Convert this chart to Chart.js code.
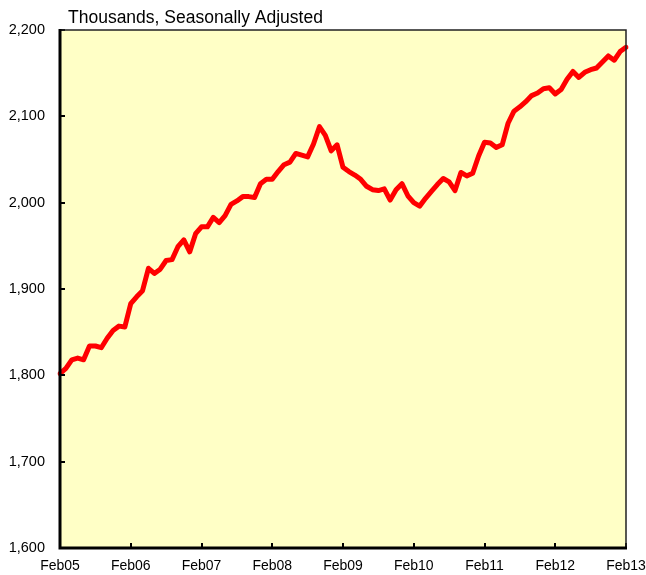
<!DOCTYPE html>
<html>
<head>
<meta charset="utf-8">
<script src="https://cdn.jsdelivr.net/npm/chart.js@4/dist/chart.umd.min.js"></script>
<style>
html,body{margin:0;padding:0;background:#fff;}
#wrap{width:646px;height:575px;position:relative;}
</style>
</head>
<body>
<div id="wrap"><canvas id="c" width="646" height="575"></canvas></div>
<script>
const years = ["05","06","07","08","09","10","11","12","13"];
const monthNames = ["Feb","Mar","Apr","May","Jun","Jul","Aug","Sep","Oct","Nov","Dec","Jan"];
const employment = [
1802,1808,1818,1820,1818,1834,1834,1832,1843,1852,1857,1856,
1883,1891,1898,1924,1918,1923,1933,1934,1949,1957,1943,1964,
1972,1972,1983,1977,1985,1998,2002,2007,2007,2006,2022,2027,
2027,2036,2044,2047,2057,2055,2053,2068,2088,2078,2060,2067,
2041,2036,2032,2027,2019,2015,2014,2016,2003,2015,2022,2008,
2000,1996,2005,2013,2021,2028,2024,2014,2035,2031,2034,2054,
2070,2069,2064,2067,2092,2106,2111,2117,2124,2127,2132,2133,
2126,2131,2143,2152,2145,2151,2154,2156,2163,2170,2165,2175,
2180
];
const yTicks = [1600,1700,1800,1900,2000,2100,2200];
const titleText = "Thousands, Seasonally Adjusted";

const labels = employment.map((v,i)=>{
  const yr = Math.floor(i/12);
  const m = i%12;
  const y2 = m===11 ? years[yr+1] : years[yr];
  return monthNames[m] + y2;
});

const frame = {
  id:'frame',
  beforeDatasetsDraw(chart){
    const {ctx, chartArea:a} = chart;
    ctx.save();
    ctx.fillStyle = '#FFFFC6';
    ctx.fillRect(a.left, a.top, a.right-a.left, a.bottom-a.top);
    ctx.restore();
  },
  afterDatasetsDraw(chart){
    const {ctx, chartArea:a, scales} = chart;
    ctx.save();
    ctx.strokeStyle = '#000';
    ctx.lineWidth = 2;
    yTicks.forEach(v=>{
      const y = Math.round(scales.y.getPixelForValue(v));
      ctx.beginPath(); ctx.moveTo(a.left, y); ctx.lineTo(a.left+5, y); ctx.stroke();
    });
    labels.forEach((l,i)=>{
      if(i%12===0){
        const x = Math.round(scales.x.getPixelForValue(i));
        ctx.beginPath(); ctx.moveTo(x, a.bottom); ctx.lineTo(x, a.bottom-5); ctx.stroke();
      }
    });
    ctx.strokeStyle = '#222';
    ctx.lineWidth = 1.5;
    ctx.beginPath();
    ctx.moveTo(a.left, a.top); ctx.lineTo(a.right, a.top); ctx.lineTo(a.right, a.bottom);
    ctx.stroke();
    ctx.strokeStyle = '#000';
    ctx.lineWidth = 3;
    ctx.beginPath();
    ctx.moveTo(a.left, a.top-1); ctx.lineTo(a.left, a.bottom); ctx.lineTo(a.right+1, a.bottom);
    ctx.stroke();
    ctx.fillStyle = '#000';
    ctx.font = '17.5px "Liberation Sans", Arial, sans-serif';
    ctx.textAlign = 'left';
    ctx.textBaseline = 'alphabetic';
    ctx.fillText(titleText, a.left + 8, a.top - 7);
    ctx.restore();
  }
};

new Chart(document.getElementById('c'), {
  type:'line',
  data:{
    labels: labels,
    datasets:[{
      data: employment,
      borderColor:'#FF0000',
      borderWidth:5,
      pointRadius:0,
      tension:0,
      fill:false,
      borderJoinStyle:'round',
      borderCapStyle:'round'
    }]
  },
  options:{
    responsive:false,
    animation:false,
    events:[],
    layout:{padding:{top:30,right:20,left:0,bottom:0}},
    plugins:{legend:{display:false},tooltip:{enabled:false}},
    scales:{
      x:{
        type:'category',
        offset:false,
        grid:{display:false,drawTicks:false},
        border:{display:false},
        afterFit(s){ s.height = 27; s.paddingLeft = 0; s.paddingRight = 0; },
        ticks:{
          autoSkip:false, maxRotation:0, minRotation:0, padding:10,
          color:'#000',
          font:{family:'"Liberation Sans", Arial, sans-serif', size:14},
          callback:(v,i)=> i%12===0 ? labels[i] : null
        }
      },
      y:{
        min:1600,max:2200,
        grid:{display:false,drawTicks:false},
        border:{display:false},
        afterFit(s){ s.width = 60; s.paddingTop = 0; s.paddingBottom = 0; },
        afterBuildTicks(s){ s.ticks = yTicks.map(v=>({value:v})); },
        ticks:{
          padding:15,
          color:'#000',
          font:{family:'"Liberation Sans", Arial, sans-serif', size:14.5},
          callback:v=> v.toLocaleString('en-US')
        }
      }
    }
  },
  plugins:[frame]
});
</script>
</body>
</html>
